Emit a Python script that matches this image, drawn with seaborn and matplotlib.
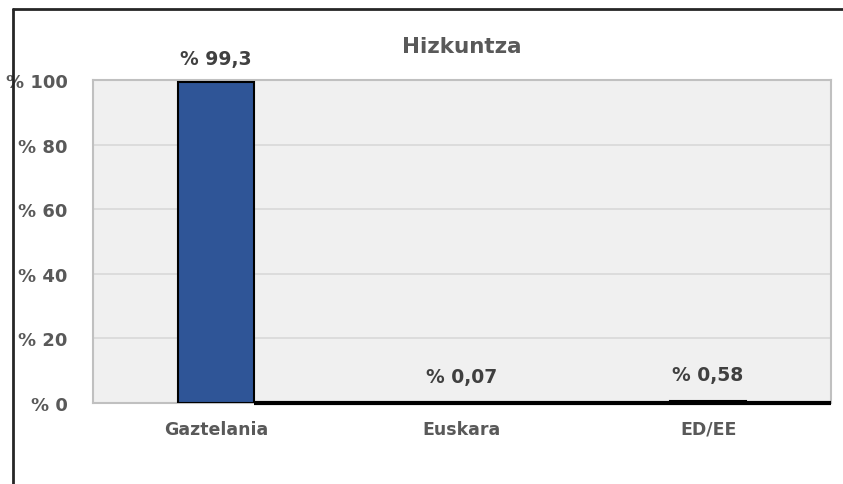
import matplotlib
matplotlib.use('Agg')
import matplotlib.pyplot as plt
from matplotlib.lines import Line2D
import seaborn as sns
import pandas as pd

# Datos
categorias = ['Gaztelania', 'Euskara', 'ED/EE']
valores = [99.3, 0.07, 0.58]
etiquetas = ['% 99,3', '% 0,07', '% 0,58']
ticks_y = [0, 20, 40, 60, 80, 100]

gris_texto = '#595959'

sns.set_theme(style='white')
plt.rcParams['font.family'] = ['DejaVu Sans']

df = pd.DataFrame({'cat': categorias, 'val': valores})

fig = plt.figure(figsize=(8.43, 4.85), dpi=100)
ax = fig.add_axes([0.110, 0.167, 0.876, 0.666])
ax.set_facecolor('#f0f0f0')

sns.barplot(data=df, x='cat', y='val', color='#2f5597', width=0.31,
            edgecolor='black', linewidth=1.5, saturation=1, ax=ax, zorder=3)

ax.set_xlim(-0.5, len(categorias) - 0.5)
ax.set_ylim(0, 100)
ax.set_yticks(ticks_y)
ax.set_yticklabels([f'% {t}' for t in ticks_y])
ax.grid(axis='y', color='#d9d9d9', linewidth=1.2, zorder=0)
ax.set_axisbelow(True)
ax.set_xlabel('')
ax.set_ylabel('')
ax.tick_params(axis='y', length=0, pad=18, labelsize=13, labelcolor=gris_texto)
ax.tick_params(axis='x', length=0, pad=12, labelsize=12.5, labelcolor=gris_texto)
for lbl in ax.get_xticklabels() + ax.get_yticklabels():
    lbl.set_fontweight('bold')

for s in ax.spines.values():
    s.set_color('#c0c0c0')
    s.set_linewidth(1.5)

# Linea negra de base desde el borde de la primera barra
barras = ax.patches
x_ini = barras[0].get_x() + barras[0].get_width()
x_fin = ax.get_xlim()[1]
ax.plot([x_ini, x_fin], [0, 0], color='black', linewidth=3, zorder=4, clip_on=False,
        solid_capstyle='butt', scalex=False, scaley=False)

# Etiquetas de valor
for barra, txt, v in zip(barras, etiquetas, valores):
    cx = barra.get_x() + barra.get_width() / 2
    off = 10 if v > 50 else 12
    ax.annotate(txt, (cx, v), xytext=(0, off), textcoords='offset points',
                ha='center', va='bottom', fontsize=13.5, fontweight='bold', color='#404040')

ax.set_title('Hizkuntza', fontsize=15.5, fontweight='bold', color=gris_texto, pad=20)

# Marco exterior del grafico
fig.add_artist(Line2D([0.0154, 0.0154], [0, 0.98], transform=fig.transFigure,
                      color='#262626', linewidth=2))
fig.add_artist(Line2D([0.0154, 1.0], [0.98, 0.98], transform=fig.transFigure,
                      color='#262626', linewidth=2))

fig.savefig('out.png', dpi=100)
plt.close(fig)
